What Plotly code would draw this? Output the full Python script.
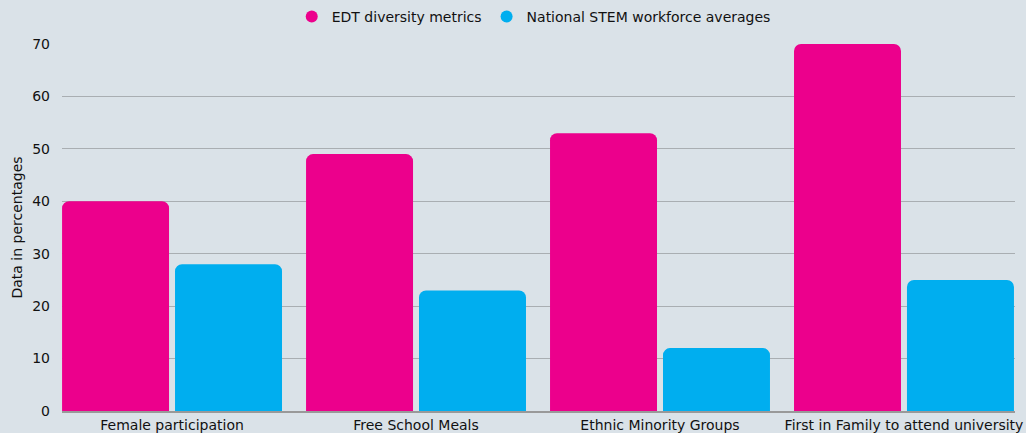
import plotly.graph_objects as go

categories = ["Female participation", "Free School Meals", "Ethnic Minority Groups",
              "First in Family to attend university"]
edt_values = [40, 49, 53, 70]
national_values = [28, 23, 12, 25]
series_names = ["EDT diversity metrics", "National STEM workforce averages"]
y_ticks = [0, 10, 20, 30, 40, 50, 60, 70]

PINK = "#EC008C"
BLUE = "#00AEEF"
BG = "#DAE2E8"
FONT = "DejaVu Sans"
TXT = "#111111"

fig = go.Figure()
fig.add_trace(go.Bar(x=categories, y=edt_values, name=series_names[0],
                     marker=dict(color=PINK, line=dict(width=0)), showlegend=False))
fig.add_trace(go.Bar(x=categories, y=national_values, name=series_names[1],
                     marker=dict(color=BLUE, line=dict(width=0)), showlegend=False))
for nm, col in zip(series_names, [PINK, BLUE]):
    fig.add_trace(go.Scatter(x=[None], y=[None], mode="markers", name=nm,
                             marker=dict(color=col, size=15, symbol="circle")))

fig.update_layout(
    width=1026, height=433,
    paper_bgcolor=BG, plot_bgcolor=BG,
    margin=dict(l=62, r=11, t=44, b=22, autoexpand=False),
    barmode="group", bargap=0.074, bargroupgap=0.053, barcornerradius=7,
    font=dict(family=FONT, size=14, color=TXT),
    legend=dict(orientation="h", x=0.495, xanchor="center", y=1.0736, yanchor="middle",
                yref="paper", font=dict(size=14, color=TXT), itemsizing="constant",
                bgcolor="rgba(0,0,0,0)", itemwidth=30, tracegroupgap=0),
    showlegend=True,
)
fig.update_xaxes(type="category", range=[-0.451, 3.455], showgrid=False,
                 showline=True, linecolor="#999999", linewidth=2,
                 tickfont=dict(size=14, color=TXT), automargin=False, fixedrange=True)
fig.update_yaxes(range=[0, 70], tickvals=y_ticks, showgrid=True, gridcolor="#A9AEB2",
                 gridwidth=1, zeroline=False, showline=False,
                 tickfont=dict(size=14, color=TXT), ticklabelstandoff=11,
                 title=dict(text="Data in percentages", font=dict(size=14, color=TXT), standoff=6),
                 automargin=False, fixedrange=True)

fig.write_html("out.html", config={"displayModeBar": False},
               post_script="document.body.style.margin='0px';")
